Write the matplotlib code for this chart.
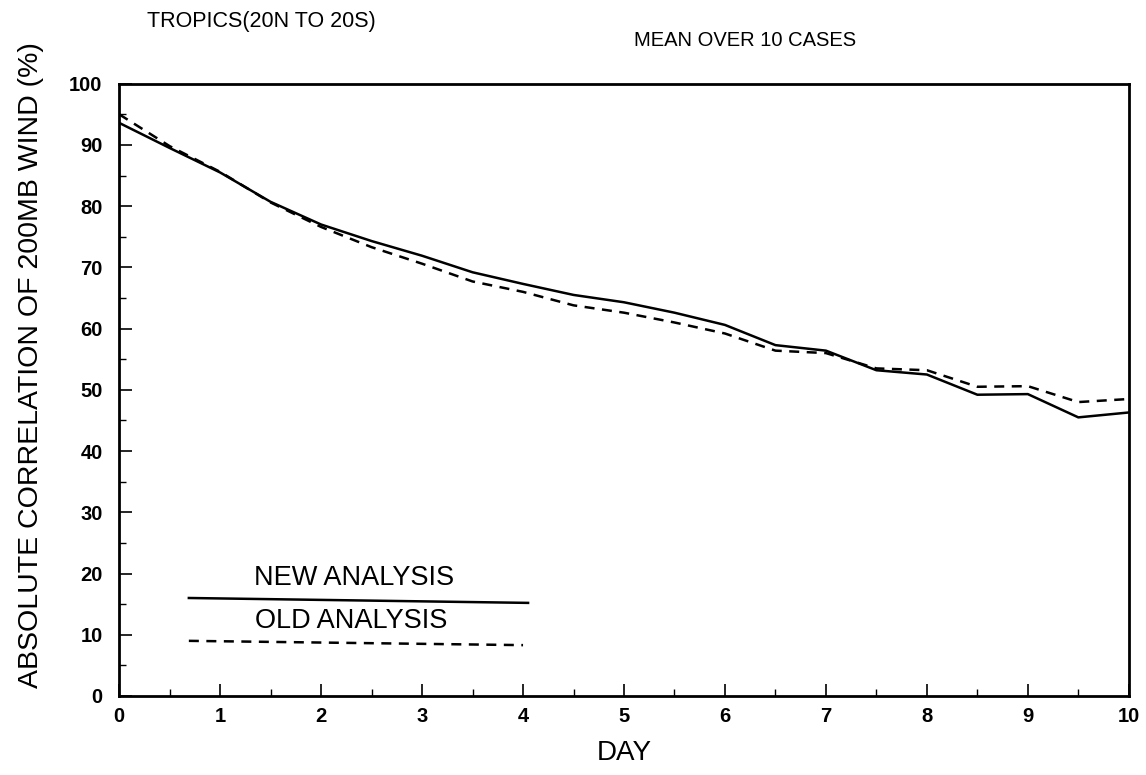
import numpy as np
import matplotlib
matplotlib.use('Agg')
import matplotlib.pyplot as plt
from matplotlib.ticker import MultipleLocator

# forecast day, half-day steps
days = np.arange(0, 10.5, 0.5)
new_analysis = [93.6, 89.5, 85.5, 80.7, 77.0, 74.3, 71.9, 69.2, 67.3, 65.5, 64.3,
                62.6, 60.6, 57.3, 56.4, 53.2, 52.5, 49.2, 49.3, 45.5, 46.3]
old_analysis = [95.0, 89.8, 85.6, 80.6, 76.6, 73.3, 70.6, 67.7, 66.0, 63.8, 62.6,
                61.0, 59.2, 56.4, 56.0, 53.5, 53.2, 50.5, 50.6, 48.0, 48.5]

plt.rcParams['font.family'] = ['Liberation Sans', 'DejaVu Sans']

fig = plt.figure(figsize=(11.46, 7.75), dpi=100)
ax = fig.add_axes([0.104, 0.102, 0.881, 0.790])

ax.plot(days, new_analysis, color='black', lw=1.8, solid_joinstyle='round')
ax.plot(days, old_analysis, color='black', lw=1.8, dashes=(4, 3))

ax.set_xlim(0, 10)
ax.set_ylim(0, 100)
ax.xaxis.set_major_locator(MultipleLocator(1))
ax.xaxis.set_minor_locator(MultipleLocator(0.5))
ax.yaxis.set_major_locator(MultipleLocator(10))
ax.yaxis.set_minor_locator(MultipleLocator(5))
ax.tick_params(which='major', direction='in', length=9, width=1.2, labelsize=14.5,
               top=False, right=False)
ax.tick_params(which='minor', direction='in', length=5, width=1.0,
               top=False, right=False)
ax.tick_params(axis='x', pad=8)
ax.tick_params(axis='y', pad=12)
for lab in ax.get_xticklabels() + ax.get_yticklabels():
    lab.set_fontweight('bold')
for s in ax.spines.values():
    s.set_linewidth(2.0)

ax.set_xlabel('DAY', fontsize=20, labelpad=10)
ax.set_ylabel('ABSOLUTE CORRELATION OF 200MB WIND (%)', fontsize=20.5)
ax.yaxis.set_label_coords(-0.074, 0.54)

# hand drawn key
ax.plot([0.069, 0.405], [0.160, 0.152], color='black', lw=1.8, transform=ax.transAxes)
ax.plot([0.069, 0.400], [0.090, 0.083], color='black', lw=1.8, dashes=(4, 3),
        transform=ax.transAxes)
ax.text(0.233, 0.192, 'NEW ANALYSIS', fontsize=19.5, ha='center', va='center',
        transform=ax.transAxes)
ax.text(0.230, 0.122, 'OLD ANALYSIS', fontsize=19.5, ha='center', va='center',
        transform=ax.transAxes)

fig.text(0.228, 0.972, 'TROPICS(20N TO 20S)', fontsize=15.5, ha='center', va='center')
fig.text(0.650, 0.948, 'MEAN OVER 10 CASES', fontsize=14.5, ha='center', va='center')

fig.savefig('out.png', dpi=100)
